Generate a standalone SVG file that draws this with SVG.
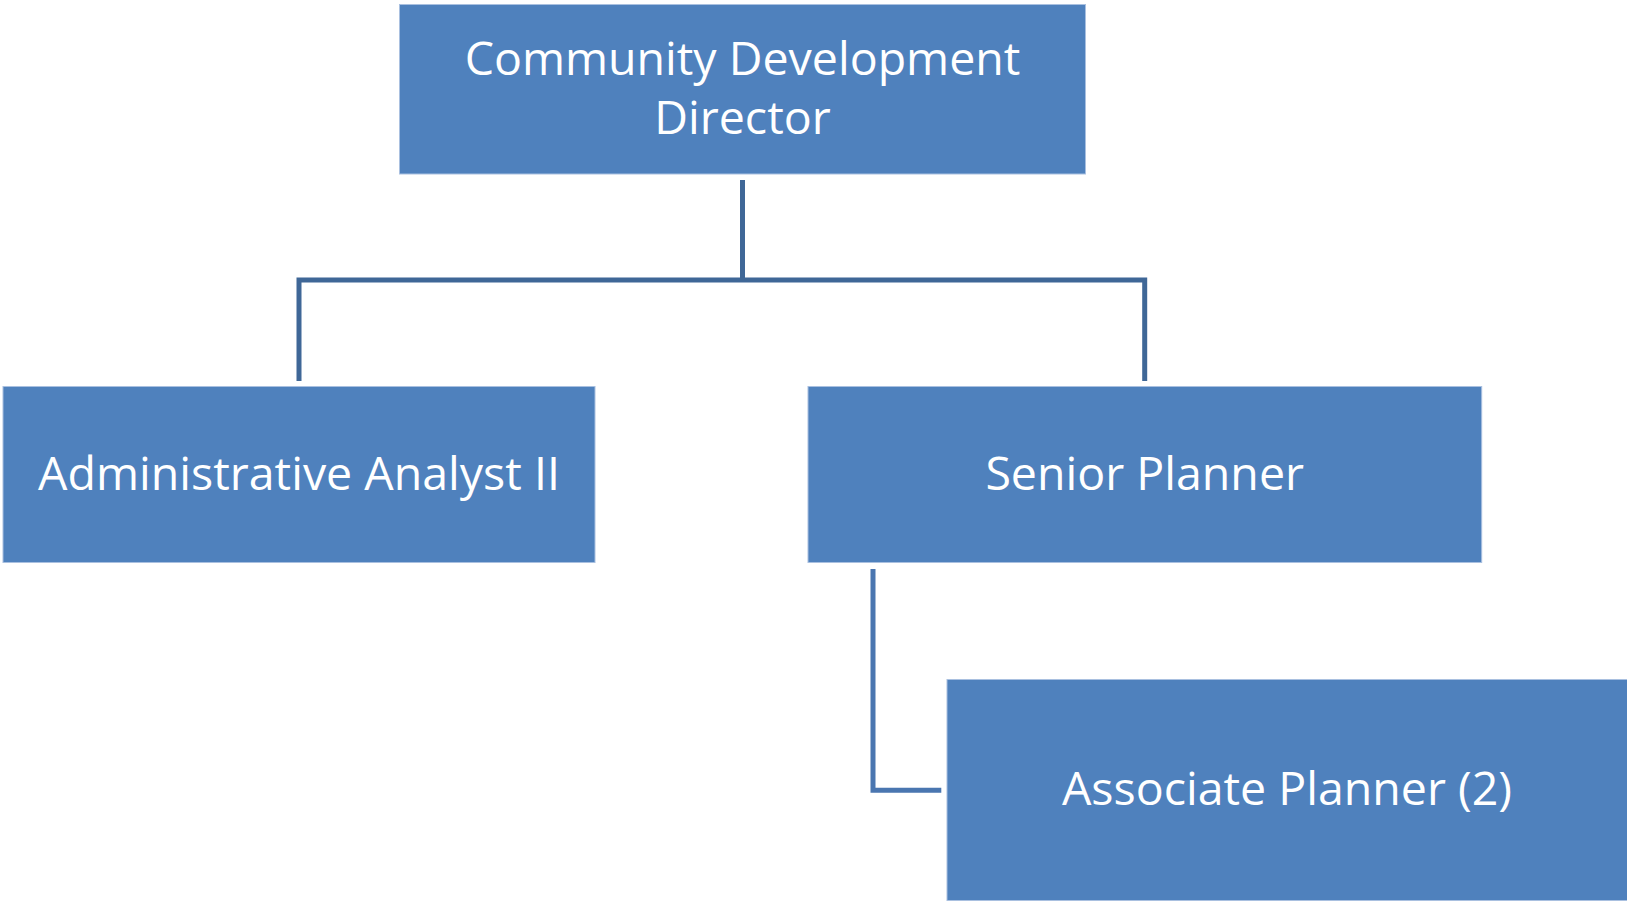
<svg xmlns="http://www.w3.org/2000/svg" width="1627" height="902" viewBox="0 0 1627 902">
<style>
.box{fill:#4F81BD;stroke:#A9C0E0;stroke-width:1}
.lbl{fill:#FFFFFF;font-family:"Open Sans","Noto Sans","Liberation Sans",sans-serif;font-size:46.5px;text-anchor:middle}
.conn{fill:none;stroke:#3F6797;stroke-width:5}
.conn2{fill:none;stroke:#4A76B0;stroke-width:5}
</style>
<rect width="1627" height="902" fill="#FFFFFF"/>
<g id="connectors">
<path class="conn" d="M742.5,180 V280 M299,381 V280 H1144.7 V381"/>
<path class="conn2" d="M873,569 V790.3 H941.3"/>
</g>
<g id="director">
<rect class="box" x="399.5" y="4.5" width="686" height="169.5"/>
<text class="lbl" x="742.5" y="75.3">Community Development</text>
<text class="lbl" x="742.5" y="134.3">Director</text>
</g>
<g id="admin">
<rect class="box" x="3" y="386.5" width="592" height="176"/>
<text class="lbl" x="299" y="490">Administrative Analyst II</text>
</g>
<g id="senior">
<rect class="box" x="808" y="386.5" width="673.7" height="176"/>
<text class="lbl" x="1144.7" y="490">Senior Planner</text>
</g>
<g id="associate">
<rect class="box" x="947" y="679.5" width="690" height="221"/>
<text class="lbl" x="1287" y="805">Associate Planner (2)</text>
</g>
</svg>
